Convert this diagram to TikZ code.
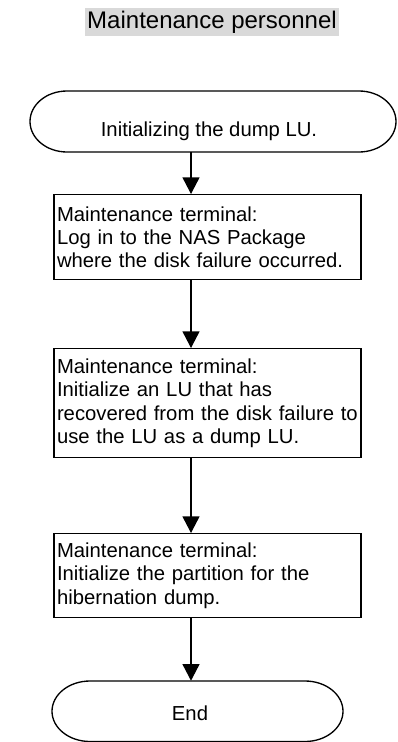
\documentclass[tikz,border=0pt]{standalone}
\usepackage{fontspec}
\setmainfont{Liberation Sans}
\usetikzlibrary{arrows.meta}
\definecolor{hdr}{HTML}{D9D9D9}
\begin{document}
\begin{tikzpicture}[x=0.75pt,y=-0.75pt,
  txt/.style={font=\fontsize{15.2}{17.5}\selectfont},
  procbox/.style={txt, draw, line width=1pt, align=left, text width=225.75pt,
    inner xsep=2.25pt, inner ysep=0pt, anchor=north},
  flow/.style={line width=1pt, -{Triangle[length=12.5pt,width=12.75pt]}},
  term/.style={line width=1pt}]
\useasboundingbox (0,0) rectangle (397,742);
\coordinate (colx) at (191,0);
% header
\node[font=\fontsize{18}{21}\selectfont, fill=hdr, inner xsep=2pt, inner ysep=2pt] (hdr) at (212,22) {Maintenance personnel};
% start terminal
\draw[term] (67,91) -- (359,91) arc[start angle=-90,end angle=90,x radius=37,y radius=30.5]
  -- (67,152) arc[start angle=90,end angle=270,x radius=37,y radius=30.5] -- cycle;
\node[minimum width=274.5pt, minimum height=45.75pt, inner sep=0pt] (start) at (213,121.5) {};
\node[txt] (starttxt) at (209,131) {Initializing the dump LU.};
% boxes
\node[procbox, minimum height=63.75pt] (b1) at (207.5,194) {Maintenance terminal:\\Log in to the NAS Package\\where the disk failure occurred.};
\node[procbox, minimum height=81.75pt] (b2) at (207.5,348) {Maintenance terminal:\\Initialize an LU that has\\recovered from the disk failure to\\use the LU as a dump LU.};
\node[procbox, minimum height=63pt] (b3) at (207.5,533) {Maintenance terminal:\\Initialize the partition for the\\hibernation dump.};
% end terminal
\draw[term] (90,681) -- (305,681) arc[start angle=-90,end angle=90,x radius=38,y radius=30.25]
  -- (90,741.5) arc[start angle=90,end angle=270,x radius=38,y radius=30.25] -- cycle;
\node[minimum width=218.25pt, minimum height=45.4pt, inner sep=0pt] (endt) at (197.5,711.25) {};
\node[txt] (endtxt) at (190,713) {End};
% connectors
\draw[flow] (start.south -| colx) -- (b1.north -| colx);
\draw[flow] (b1.south -| colx) -- (b2.north -| colx);
\draw[flow] (b2.south -| colx) -- (b3.north -| colx);
\draw[flow] (b3.south -| colx) -- (endt.north -| colx);
\end{tikzpicture}
\end{document}
